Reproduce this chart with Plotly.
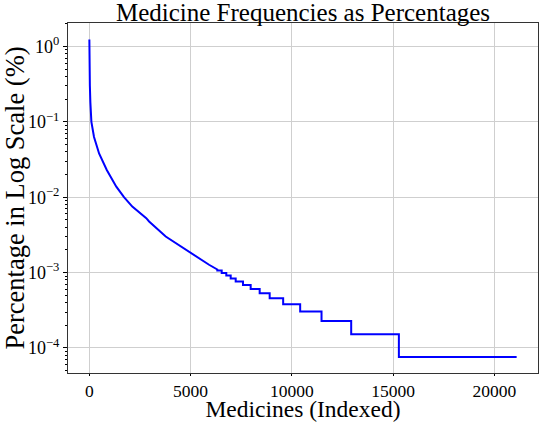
import plotly.graph_objects as go

# smooth head of the curve: medicine index -> percentage
curve_x = [0, 3, 10, 25, 50, 100, 230, 480, 860, 1330, 1710, 2120, 2810,
           2950, 3770, 4985, 5910, 6318]
curve_pct = [1.24, 0.8, 0.5, 0.3, 0.18, 0.1, 0.063, 0.038, 0.023, 0.0138,
             0.0100, 0.0075, 0.00527, 0.00476, 0.00301, 0.00182, 0.00127,
             0.00110]

# stepped tail: index where each level starts, and its percentage
step_start = [6318, 6535, 6762, 6979, 7226, 7586, 7966, 8410, 8904, 9570,
              10410, 11465, 12930, 15285]
step_pct = [1.064e-3, 9.88e-4, 9.12e-4, 8.36e-4, 7.60e-4, 6.84e-4, 6.08e-4,
            5.32e-4, 4.56e-4, 3.80e-4, 3.04e-4, 2.28e-4, 1.52e-4, 7.6e-5]
last_index = 21100

x_ticks = [0, 5000, 10000, 15000, 20000]
x_ticktext = ["0", "5000", "10000", "15000", "20000"]

# stitch head and tail into one line
xs = list(curve_x)
ys = list(curve_pct)
ends = step_start[1:] + [last_index]
for s, e, p in zip(step_start, ends, step_pct):
  xs += [s, e]
  ys += [p, p]

font = "Liberation Serif"
fig = go.Figure()
fig.add_trace(
  go.Scatter(
    x=xs,
    y=ys,
    mode="lines",
    line=dict(color="#0000ff", width=2),
    showlegend=False,
  )
)

minor_vals = [k * 10 ** e for e in range(-5, 1) for k in range(2, 10)]
fig.update_layout(
  width=540,
  height=422,
  paper_bgcolor="white",
  plot_bgcolor="white",
  margin=dict(l=68, r=2, t=23, b=49),
  font=dict(family=font, color="black", size=18),
  title=dict(
    text="Medicine Frequencies as Percentages",
    x=303 / 540, xanchor="center", y=0.97, yanchor="middle",
    font=dict(family=font, size=25, color="black"),
  ),
  xaxis=dict(
    range=[-1055, 22155],
    tickvals=x_ticks,
    ticktext=x_ticktext,
    ticks="outside", ticklen=2, tickcolor="black",
    tickfont=dict(size=17.5),
    showgrid=True, gridcolor="#cfcfcf", gridwidth=1,
    zeroline=False, automargin=False,
    showline=True, linecolor="#333333", linewidth=1, mirror=True,
    title=dict(text="Medicines (Indexed)", font=dict(size=23.5), standoff=6),
  ),
  yaxis=dict(
    type="log",
    range=[-4.332, 0.311],
    tickvals=[1e-4, 1e-3, 1e-2, 1e-1, 1],
    ticktext=["10<sup>−4</sup>", "10<sup>−3</sup>", "10<sup>−2</sup>",
              "10<sup>−1</sup>", "10<sup>0</sup>"],
    ticks="outside", ticklen=4, tickcolor="black",
    minor=dict(tickvals=minor_vals, ticks="outside", ticklen=2,
               tickcolor="black", showgrid=False),
    showgrid=True, gridcolor="#cfcfcf", gridwidth=1,
    zeroline=False, automargin=False,
    showline=True, linecolor="#333333", linewidth=1, mirror=True,
    title=dict(text="Percentage in Log Scale (%)", font=dict(size=26.5),
               standoff=2),
  ),
)

fig.write_html(
  "out.html",
  config={"displayModeBar": False},
  post_script="document.body.style.margin='0';",
)
